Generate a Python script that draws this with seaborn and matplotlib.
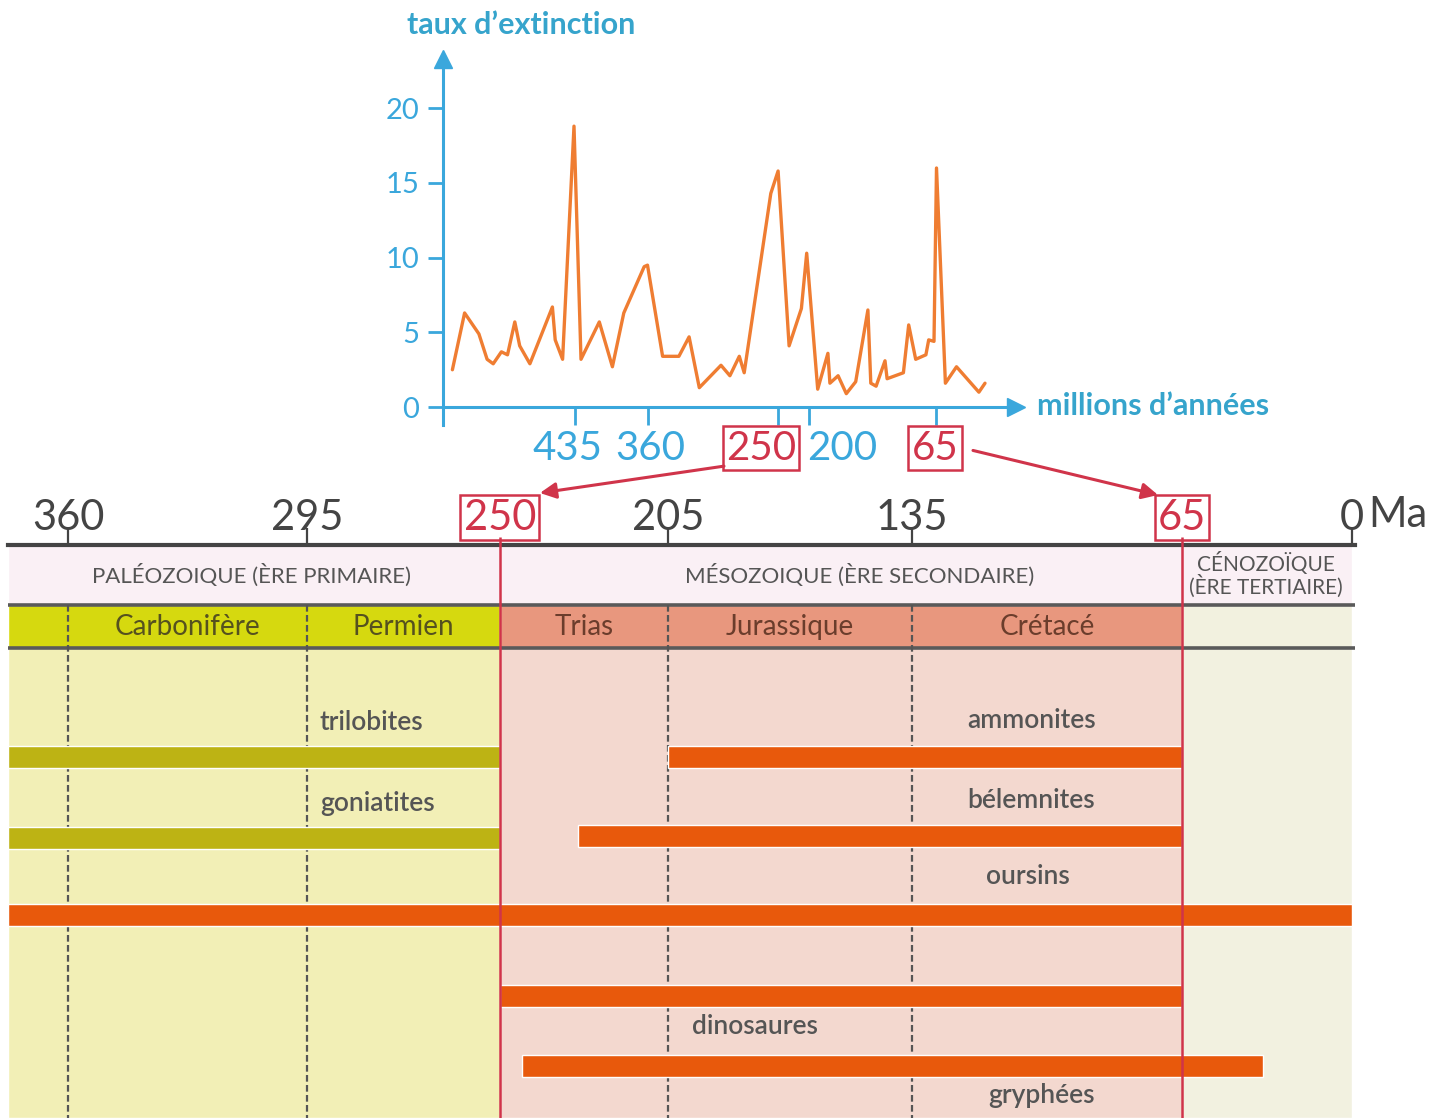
import numpy as np
import pandas as pd
import seaborn as sns
import matplotlib.pyplot as plt
from matplotlib import font_manager

# ---- top chart: extinction rate along a schematic time axis ----
x_pos = [9.4, 21.6, 35.9, 44.1, 50.2, 58.4, 64.5, 71.8, 76.7, 86.9, 109.4, 112.2, 119.6,
         131.0, 138.0, 156.3, 169.4, 180.8, 201.2, 204.5, 219.6, 235.9, 246.1, 256.3,
         278.0, 286.9, 296.3, 301.2, 327.8, 335.1, 346.1, 358.4, 363.7, 374.7, 384.9,
         386.9, 395.1, 403.3, 412.7, 424.9, 427.8, 433.1, 442.0, 444.1, 460.4, 465.7,
         472.7, 482.9, 485.7, 491.0, 493.5, 502.4, 513.5, 535.9, 542.0]
rate = [2.5, 6.3, 4.9, 3.2, 2.9, 3.7, 3.5, 5.7, 4.1, 2.9, 6.7, 4.5, 3.2,
        18.8, 3.2, 5.7, 2.7, 6.3, 9.4, 9.5, 3.4, 3.4, 4.7, 1.3,
        2.8, 2.1, 3.4, 2.3, 14.3, 15.8, 4.1, 6.6, 10.3, 1.2, 3.6,
        1.6, 2.1, 0.9, 1.7, 6.5, 1.6, 1.4, 3.1, 1.9, 2.3, 5.5,
        3.2, 3.5, 4.5, 4.4, 16.0, 1.6, 2.7, 1.0, 1.6]
top_tick_pos = [132, 205, 335, 366, 493]
top_tick_lab = ['435', '360', '250', '200', '65']
y_ticks = [0, 5, 10, 15, 20]

# ---- bottom chart: geological time scale (Ma) ----
time_ticks = [360, 295, 250, 205, 135, 65, 0]
boxed_ages = [250, 65]
period_names = ['Carbonifère', 'Permien', 'Trias', 'Jurassique', 'Crétacé']
period_start = [360, 295, 250, 205, 135]
period_end = [295, 250, 205, 135, 65]
era_names = ['PALÉOZOIQUE (ÈRE PRIMAIRE)', 'MÉSOZOIQUE (ÈRE SECONDAIRE)',
             'CÉNOZOÏQUE\n(ÈRE TERTIAIRE)']
era_start = [376.3, 250, 65]
era_end = [250, 65, 0]

taxa = ['trilobites', 'ammonites', 'goniatites', 'bélemnites', 'oursins',
        'dinosaures', 'gryphées']
taxa_start = [376.3, 205, 376.3, 229, 376.3, 250, 244]
taxa_end = [250, 65, 250, 65, 0, 65, 34]
taxa_group = ['paleo', 'meso', 'paleo', 'meso', 'all', 'meso', 'meso']

# layout (not data)
scale_ages = [420, 360, 295, 250, 205, 135, 65, 0, -20]
scale_pos = [-160.6, 60, 299, 492, 660, 904, 1174, 1344, 1396]
bar_row = [212, 212, 293, 291, 370, 451, 521]
label_row = [177, 175, 258, 256, 332, 482, 550]
label_x = [292, 104, 292, 104, 105, 180, 101.5]
label_ha = ['left', 'center', 'left', 'center', 'center', 'center', 'center']
era_label_x = [310, 150, 33]
era_label_size = [16, 16, 15]

BLUE = '#3aa7dc'
TEAL = '#36a4cc'
RED = '#d0344a'
ORANGE_LINE = '#ef7d32'
OLIVE = '#bdb314'
ORANGE = '#e8590c'
DARK = '#444444'

sns.set_theme(style='white')
names = {f.name for f in font_manager.fontManager.ttflist}
MAIN = ['Lato', 'DejaVu Sans']
NARROW = (['Liberation Sans Narrow'] if 'Liberation Sans Narrow' in names else []) + MAIN
plt.rcParams['font.family'] = MAIN

fig = plt.figure(figsize=(14.5, 11.18), dpi=100)

# ================= top chart =================
ax = fig.add_axes([413 / 1450, 1 - 437 / 1118, 630 / 1450, 396 / 1118])
ax.set_facecolor('none')
df = pd.DataFrame({'pos': x_pos, 'rate': rate})
sns.lineplot(data=df, x='pos', y='rate', ax=ax, color=ORANGE_LINE, lw=2.4, sort=False)
ax.set_xlim(-30, 600)
ax.set_ylim(-2, 24.5)
for s in ['top', 'right']:
    ax.spines[s].set_visible(False)
ax.spines['left'].set_position(('data', 0))
ax.spines['bottom'].set_position(('data', 0))
ax.spines['left'].set_bounds(-1.2, 23.0)
ax.spines['bottom'].set_bounds(0, 570)
for s in ['left', 'bottom']:
    ax.spines[s].set_color(BLUE)
    ax.spines[s].set_linewidth(2.2)
ax.plot([0], [23.3], marker='^', ms=13, color=BLUE, clip_on=False)
ax.plot([573], [0], marker='>', ms=13, color=BLUE, clip_on=False)
ax.set_yticks(y_ticks)
ax.set_xticks(top_tick_pos)
ax.set_xticklabels([])
ax.tick_params(axis='y', direction='out', length=11, width=2, color=BLUE,
               labelcolor=BLUE, labelsize=21, pad=6, left=True)
ax.tick_params(axis='x', direction='out', length=13, width=2, color=BLUE, bottom=True)
ax.set_xlabel('')
ax.set_ylabel('')
offsets = {'435': -8, '360': 2, '250': -17, '200': 33, '65': -1}
for p, lab in zip(top_tick_pos, top_tick_lab):
    boxed = lab in ('250', '65')
    ax.annotate(lab, xy=(p, 0), xytext=(offsets[lab], -41), textcoords='offset pixels',
                ha='center', va='center', fontsize=29, family=MAIN,
                color=RED if boxed else BLUE,
                bbox=dict(boxstyle='square,pad=0.08', fc='white', ec=RED, lw=1.8) if boxed else None,
                annotation_clip=False)
ax.text(78, 25.6, 'taux d’extinction', ha='center', va='center', fontsize=22,
        fontweight='bold', color=TEAL, clip_on=False)
ax.text(594, 0.1, 'millions d’années', ha='left', va='center', fontsize=22,
        fontweight='bold', color=TEAL, clip_on=False)

# ================= bottom chart =================
bx = fig.add_axes([8 / 1450, 0, 1347 / 1450, 573 / 1118])
ages_inc = scale_ages[::-1]
neg_pos_inc = [-p for p in scale_pos[::-1]]


def fwd(a):
    # increasing in age; the axis is then shown inverted (old on the left)
    return np.interp(a, ages_inc, neg_pos_inc)


def inv(p):
    return np.interp(p, neg_pos_inc, ages_inc)


bx.set_xscale('function', functions=(fwd, inv))
bx.set_xlim(376.3, -1.15)
bx.set_ylim(573, 0)
bx.set_facecolor('white')

# bands
bx.barh(30, width=0 - 376.3, left=376.3, height=60, color='#faf0f5')
period_cols = ['#d6d90f', '#e8977e', '#f2f1df']
body_cols = ['#f2efb6', '#f3d8cf', '#f2f1e0']
for a0, a1, pc, bc in zip(era_start, era_end, period_cols, body_cols):
    bx.barh(81.5, width=a1 - a0, left=a0, height=43, color=pc)
    bx.barh(338, width=a1 - a0, left=a0, height=470, color=bc)
for y in [60, 103]:
    bx.axhline(y, color='#5a5a5a', lw=2.6)
bx.vlines([360, 295, 205, 135], 60, 573, colors='#555555', lw=1.6,
          linestyles=(0, (3, 1.5)))

# taxa bars
col_map = {'paleo': OLIVE, 'meso': ORANGE, 'all': ORANGE}
for t, a0, a1, g, yr in zip(taxa, taxa_start, taxa_end, taxa_group, bar_row):
    bx.barh(yr, width=a1 - a0, left=a0, height=22, color=col_map[g], zorder=3)
for t, xl, yl, ha in zip(taxa, label_x, label_row, label_ha):
    bx.text(xl, yl, t, ha=ha, va='center', fontsize=19, fontweight='semibold',
            color='#555555', zorder=4)

bx.vlines(boxed_ages, -8, 573, colors=RED, lw=1.8, zorder=5, clip_on=False)

# era / period labels
for name, xl, fs in zip(era_names, era_label_x, era_label_size):
    bx.text(xl, 30, name, ha='center', va='center', fontsize=fs, color='#555555',
            family=NARROW, linespacing=1.0)
for name, a0, a1 in zip(period_names, period_start, period_end):
    mid = inv((fwd(a0) + fwd(a1)) / 2)
    c = '#55511f' if a0 > 250 else '#6b3d2c'
    bx.text(mid, 82, name, ha='center', va='center', fontsize=20, color=c)

# time axis
bx.xaxis.tick_top()
bx.set_xticks(time_ticks)
bx.set_xticklabels([str(a) for a in time_ticks])
bx.tick_params(axis='x', direction='out', length=12, width=1.6, color=DARK, pad=-6,
               labelsize=30, labelcolor=DARK)
for lbl in bx.get_xticklabels():
    lbl.set_family(NARROW)
    if int(lbl.get_text()) in boxed_ages:
        lbl.set_color(RED)
        lbl.set_bbox(dict(boxstyle='square,pad=0.08', fc='white', ec=RED, lw=1.8))
for tk, a in zip(bx.xaxis.get_major_ticks(), time_ticks):
    if a in boxed_ages:
        tk.tick2line.set_visible(False)
bx.annotate('Ma', xy=(0, 0), xytext=(16, 30), textcoords='offset pixels', ha='left',
            va='center', fontsize=30, color=DARK, annotation_clip=False)
bx.set_yticks([])
for s in ['left', 'right', 'bottom']:
    bx.spines[s].set_visible(False)
bx.spines['top'].set_color(DARK)
bx.spines['top'].set_linewidth(3)

# arrows linking the two time axes (from the top boxes to the lower boxes)
for xa, ya, xb, yb in [(281, -3.95, 239.3, -52), (530, -2.9, 71.2, -50)]:
    bx.annotate('', xy=(xb, yb), xycoords='data',
                xytext=(xa, ya), textcoords=ax.transData,
                arrowprops=dict(arrowstyle='-|>', mutation_scale=24, lw=2.2,
                                color=RED, shrinkA=0, shrinkB=0),
                annotation_clip=False, zorder=6)

fig.savefig('out.png', dpi=100)
